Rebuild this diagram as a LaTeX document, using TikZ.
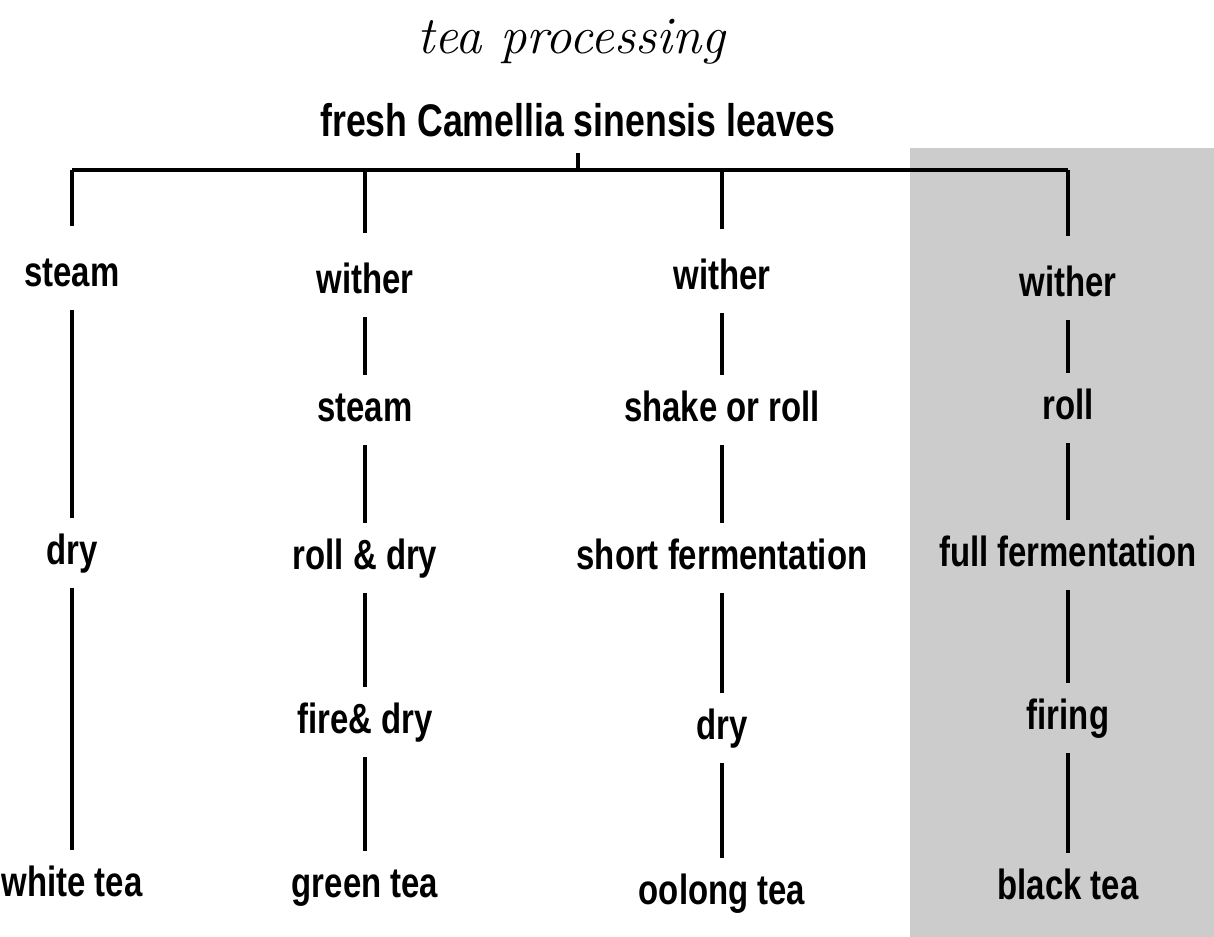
\documentclass[tikz,border=0pt]{standalone}
\usepackage{fontspec}
\setsansfont[FakeStretch=0.78]{Liberation Sans}
\newfontfamily\titlefont{Latin Modern Roman}

\begin{document}
\begin{tikzpicture}[
	x=0.01cm, y=-0.01cm,
	stage/.style={ font=\sffamily\bfseries\fontsize{12}{14}\selectfont, inner xsep=0pt, inner ysep=4pt, text height=9pt, text depth=2.5pt },
	link/.style={ line width=0.9pt },
	drop/.style={ line width=0.9pt, shorten >=4pt }
]

\useasboundingbox (0,0) rectangle (1214,937);
\fill[black!20] (910,148) rectangle (1214,937);

\node at (571,42) (title) [font=\titlefont\itshape\fontsize{15}{17}\selectfont] {tea processing};
\node at (578,125) (leaves) [stage, inner ysep=2pt, font=\sffamily\bfseries\fontsize{13}{15}\selectfont] {fresh Camellia sinensis leaves};
\coordinate (bar) at (573,170);

\node at (72,275) (steamw) [stage] {steam};
\node at (72,553) (dryw) [stage] {dry};
\node at (72,885) (white) [stage] {white tea};

\node at (365,282) (witherg) [stage] {wither};
\node at (365,410) (steamg) [stage] {steam};
\node at (365,558) (rollg) [stage] {roll \& dry};
\node at (365,722) (fireg) [stage] {fire\& dry};
\node at (365,886) (green) [stage] {green tea};

\node at (722,278) (withero) [stage] {wither};
\node at (722,410) (shakeo) [stage] {shake or roll};
\node at (722,558) (shorto) [stage] {short fermentation};
\node at (722,728) (dryo) [stage] {dry};
\node at (722,893) (oolong) [stage] {oolong tea};

\node at (1068,285) (witherb) [stage] {wither};
\node at (1068,408) (rollb) [stage] {roll};
\node at (1068,555) (fullb) [stage] {full fermentation};
\node at (1068,718) (firingb) [stage] {firing};
\node at (1068,888) (black) [stage] {black tea};

\draw[link] (leaves) to (leaves |- bar);
\draw[link] (steamw |- bar) to (witherb |- bar);
\draw[drop] (steamw |- bar) to (steamw);
\draw[drop] (witherg |- bar) to (witherg);
\draw[drop] (withero |- bar) to (withero);
\draw[drop] (witherb |- bar) to (witherb);

\draw[link] (steamw) to (dryw) to (white);
\draw[link] (witherg) to (steamg) to (rollg) to (fireg) to (green);
\draw[link] (withero) to (shakeo) to (shorto) to (dryo) to (oolong);
\draw[link] (witherb) to (rollb) to (fullb) to (firingb) to (black);

\end{tikzpicture}
\end{document}
